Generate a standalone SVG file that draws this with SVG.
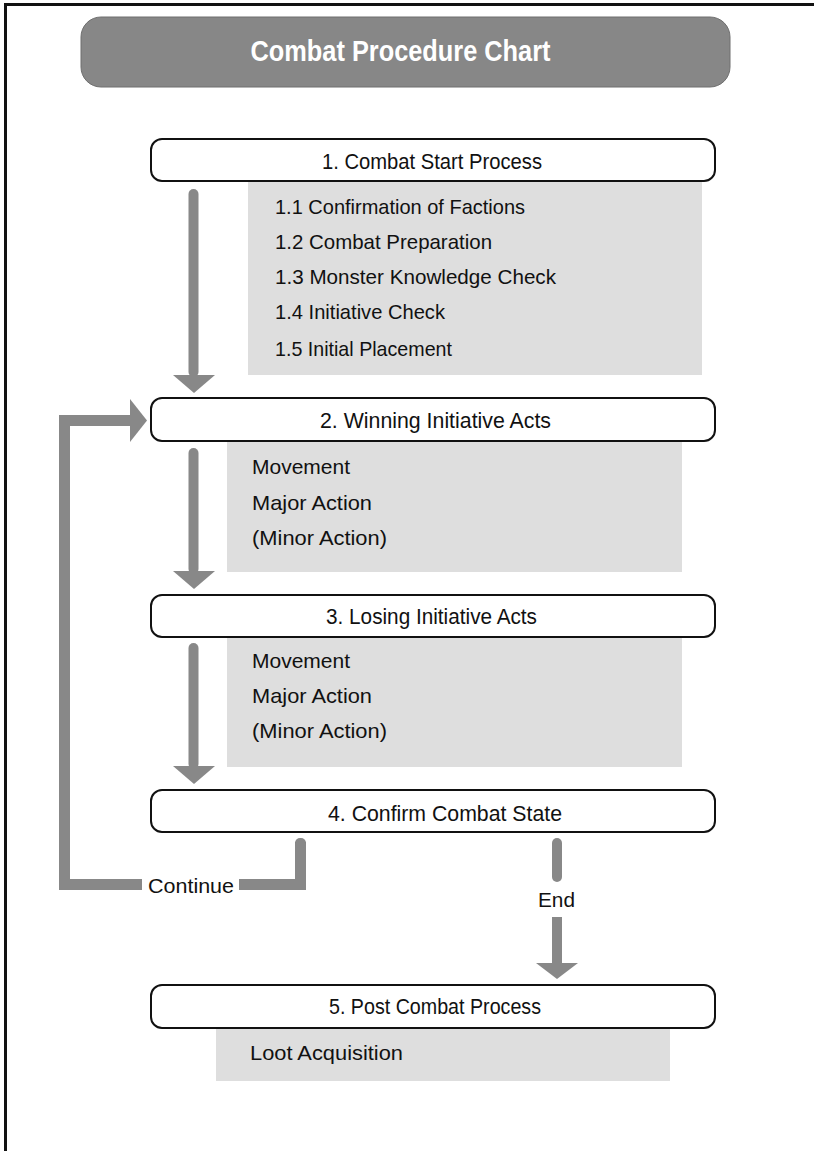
<svg xmlns="http://www.w3.org/2000/svg" width="814" height="1151" viewBox="0 0 814 1151">
<style>
  .t { font-family: "Liberation Sans", Arial, sans-serif; fill: #111; }
  .hdr { font-size: 22px; text-anchor: middle; }
  .item { font-size: 21px; }
  .box { fill: #fff; stroke: #111; stroke-width: 2; }
  .panel { fill: #dedede; }
  .arr { fill: #888; }
</style>
<rect x="0" y="0" width="814" height="1151" fill="#fff"/>
<path d="M5.5 1151 V4.5 H814" fill="none" stroke="#111" stroke-width="3"/>

<g id="title">
  <rect x="81" y="17" width="649" height="70" rx="20" fill="#878787" stroke="#6f6f6f" stroke-width="1"/>
  <text x="400.5" y="61" class="t" style="font-size:29px;fill:#fff;font-weight:bold" text-anchor="middle" textLength="300" lengthAdjust="spacingAndGlyphs">Combat Procedure Chart</text>
</g>

<g id="connectors">
  <rect x="188.5" y="189" width="10" height="188" rx="5" class="arr"/>
  <polygon points="173,375 215,375 194,393" class="arr"/>
  <rect x="188.5" y="448" width="10" height="126" rx="5" class="arr"/>
  <polygon points="173,571 215,571 194,589" class="arr"/>
  <rect x="188.5" y="643" width="10" height="126" rx="5" class="arr"/>
  <polygon points="173,766 215,766 194,784" class="arr"/>
  <path d="M300.5 842 V884.5 H64.5 V420.5 H131" fill="none" stroke="#888" stroke-width="11" stroke-linejoin="miter"/>
  <rect x="295" y="838" width="11" height="10" rx="5" class="arr"/>
  <polygon points="130,399 147,420.5 130,442" class="arr"/>
  <rect x="552" y="838" width="10" height="44" rx="5" class="arr"/>
  <rect x="552" y="917" width="10" height="48" class="arr"/>
  <polygon points="536,963 578,963 557,979" class="arr"/>
  <rect x="142" y="872" width="97" height="25" fill="#fff"/>
  <text x="148" y="893" class="t" style="font-size:20px" textLength="86" lengthAdjust="spacingAndGlyphs">Continue</text>
  <text x="556.5" y="907" class="t" style="font-size:20px" text-anchor="middle" textLength="37" lengthAdjust="spacingAndGlyphs">End</text>
</g>

<g id="node1">
  <rect x="151" y="139" width="564" height="42" rx="11" class="box"/>
  <rect x="248" y="182" width="454" height="193" class="panel"/>
  <text x="432" y="169" class="t hdr" textLength="220" lengthAdjust="spacingAndGlyphs">1. Combat Start Process</text>
  <text x="275" y="214" class="t item" textLength="250" lengthAdjust="spacingAndGlyphs">1.1 Confirmation of Factions</text>
  <text x="275" y="249" class="t item" textLength="217" lengthAdjust="spacingAndGlyphs">1.2 Combat Preparation</text>
  <text x="275" y="284" class="t item" textLength="281" lengthAdjust="spacingAndGlyphs">1.3 Monster Knowledge Check</text>
  <text x="275" y="319" class="t item" textLength="170" lengthAdjust="spacingAndGlyphs">1.4 Initiative Check</text>
  <text x="275" y="356" class="t item" textLength="177" lengthAdjust="spacingAndGlyphs">1.5 Initial Placement</text>
</g>

<g id="node2">
  <rect x="151" y="398" width="564" height="43" rx="11" class="box"/>
  <rect x="227" y="442" width="455" height="130" class="panel"/>
  <text x="435.5" y="428" class="t hdr" textLength="231" lengthAdjust="spacingAndGlyphs">2. Winning Initiative Acts</text>
  <text x="252" y="474" class="t item" textLength="98" lengthAdjust="spacingAndGlyphs">Movement</text>
  <text x="252" y="510" class="t item" textLength="120" lengthAdjust="spacingAndGlyphs">Major Action</text>
  <text x="252" y="545" class="t item" textLength="135" lengthAdjust="spacingAndGlyphs">(Minor Action)</text>
</g>

<g id="node3">
  <rect x="151" y="595" width="564" height="42" rx="11" class="box"/>
  <rect x="227" y="638" width="455" height="129" class="panel"/>
  <text x="431.5" y="624" class="t hdr" textLength="211" lengthAdjust="spacingAndGlyphs">3. Losing Initiative Acts</text>
  <text x="252" y="668" class="t item" textLength="98" lengthAdjust="spacingAndGlyphs">Movement</text>
  <text x="252" y="703" class="t item" textLength="120" lengthAdjust="spacingAndGlyphs">Major Action</text>
  <text x="252" y="738" class="t item" textLength="135" lengthAdjust="spacingAndGlyphs">(Minor Action)</text>
</g>

<g id="node4">
  <rect x="151" y="790" width="564" height="42" rx="11" class="box"/>
  <text x="445" y="821" class="t hdr" textLength="234" lengthAdjust="spacingAndGlyphs">4. Confirm Combat State</text>
</g>

<g id="node5">
  <rect x="151" y="985" width="564" height="43" rx="11" class="box"/>
  <rect x="216" y="1029" width="454" height="52" class="panel"/>
  <text x="435" y="1014" class="t hdr" textLength="212" lengthAdjust="spacingAndGlyphs">5. Post Combat Process</text>
  <text x="250" y="1060" class="t item" textLength="153" lengthAdjust="spacingAndGlyphs">Loot Acquisition</text>
</g>
</svg>
